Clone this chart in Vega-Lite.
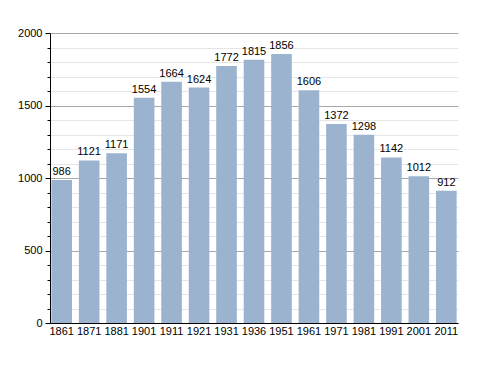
{
  "$schema": "https://vega.github.io/schema/vega-lite/v6.json",
  "width": 408,
  "height": 290,
  "autosize": "none",
  "padding": {"left": 50, "top": 33, "right": 30, "bottom": 50},
  "background": "white",
  "config": {
    "view": {"stroke": null},
    "font": "Liberation Sans",
    "axis": {"labelFont": "Liberation Sans", "labelFontSize": 11, "labelColor": "#000"}
  },
  "data": {
    "values": [
      {"year": "1861", "pop": 986},
      {"year": "1871", "pop": 1121},
      {"year": "1881", "pop": 1171},
      {"year": "1901", "pop": 1554},
      {"year": "1911", "pop": 1664},
      {"year": "1921", "pop": 1624},
      {"year": "1931", "pop": 1772},
      {"year": "1936", "pop": 1815},
      {"year": "1951", "pop": 1856},
      {"year": "1961", "pop": 1606},
      {"year": "1971", "pop": 1372},
      {"year": "1981", "pop": 1298},
      {"year": "1991", "pop": 1142},
      {"year": "2001", "pop": 1012},
      {"year": "2011", "pop": 912}
    ]
  },
  "encoding": {
    "x": {
      "field": "year", "type": "ordinal", "sort": null,
      "scale": {"paddingInner": 0.25, "paddingOuter": 0.05},
      "axis": {"title": null, "labelAngle": 0, "ticks": false, "labelPadding": 2, "domainColor": "#000", "domainWidth": 1}
    },
    "y": {
      "field": "pop", "type": "quantitative",
      "scale": {"domain": [0, 2000], "nice": false},
      "axis": {
        "title": null,
        "values": [0,100,200,300,400,500,600,700,800,900,1000,1100,1200,1300,1400,1500,1600,1700,1800,1900,2000],
        "format": "d",
        "labelExpr": "datum.value % 500 === 0 ? datum.label : ''",
        "domainColor": "#000",
        "tickColor": "#000",
        "tickSize": {"condition": {"test": "datum.value % 500 === 0", "value": 5}, "value": 3},
        "labelPadding": 3,
        "grid": true,
        "gridColor": {"condition": {"test": "datum.value % 500 === 0", "value": "#a8a8a8"}, "value": "#e6e6e6"}
      }
    }
  },
  "layer": [
    {"mark": {"type": "bar", "color": "#9bb3ce"}},
    {"mark": {"type": "text", "dy": -8, "fontSize": 11, "color": "#000", "font": "Liberation Sans"}, "encoding": {"text": {"field": "pop", "type": "quantitative", "format": "d"}}}
  ]
}
